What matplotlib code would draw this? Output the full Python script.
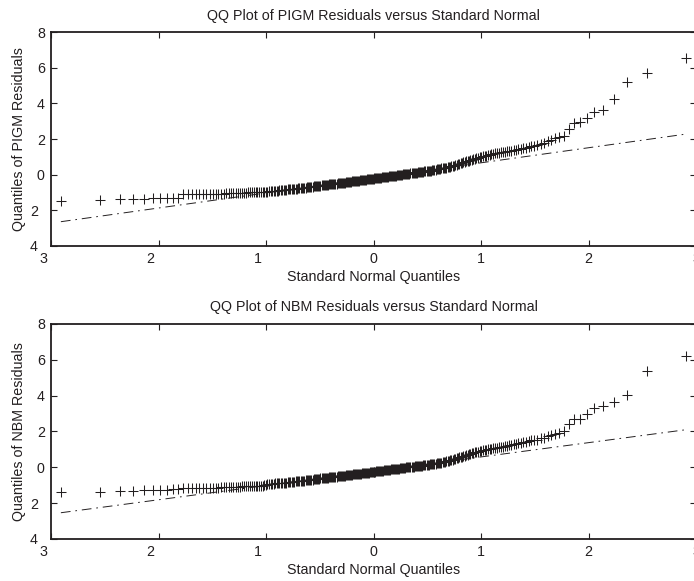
import numpy as np
import matplotlib
matplotlib.use("Agg")
import matplotlib.pyplot as plt
from matplotlib.transforms import ScaledTranslation
from statistics import NormalDist

# sorted residuals (275 points per panel)
pigm_resid = [
    -1.46, -1.44, -1.39, -1.37, -1.35, -1.33, -1.32, -1.31, -1.30, -1.29,
    -1.10, -1.10, -1.09, -1.09, -1.08, -1.08, -1.08, -1.07, -1.07, -1.07,
    -1.06, -1.06, -1.06, -1.05, -1.05, -1.04, -1.04, -1.03, -1.03,
    -1.02, -1.02, -1.01, -1.01, -1.00, -1.00, -0.99, -0.99, -0.98, -0.98,
    -0.97, -0.97, -0.97, -0.96, -0.96,
    -0.95, -0.94, -0.93, -0.93, -0.92, -0.91, -0.90, -0.89, -0.88, -0.87,
    -0.87, -0.86, -0.85, -0.84, -0.83, -0.83, -0.82, -0.81, -0.80,
    -0.79, -0.79, -0.78, -0.77, -0.76, -0.75, -0.75, -0.74, -0.73, -0.72,
    -0.71, -0.70, -0.70, -0.69, -0.68, -0.67, -0.66, -0.66, -0.65, -0.64,
    -0.63, -0.62,
    -0.61, -0.60, -0.60, -0.59, -0.58, -0.58, -0.57, -0.56, -0.55, -0.55,
    -0.54, -0.53, -0.52, -0.52, -0.51, -0.50, -0.49, -0.49, -0.48, -0.47,
    -0.46, -0.46, -0.45, -0.44, -0.43, -0.42,
    -0.41, -0.41, -0.40, -0.39, -0.38, -0.38, -0.37, -0.36, -0.35, -0.35,
    -0.34, -0.33, -0.32, -0.32, -0.31, -0.30, -0.29, -0.29, -0.28, -0.27,
    -0.26, -0.26, -0.25, -0.24, -0.23, -0.23, -0.22,
    -0.21, -0.21, -0.20, -0.19, -0.18, -0.18, -0.17, -0.16, -0.15, -0.15,
    -0.14, -0.13, -0.12, -0.12, -0.11, -0.10, -0.09, -0.09, -0.08, -0.07,
    -0.06, -0.06, -0.05, -0.04, -0.03, -0.03, -0.02,
    -0.01, 0.00, 0.01, 0.01, 0.02, 0.03, 0.04, 0.05, 0.06, 0.07,
    0.07, 0.08, 0.09, 0.10, 0.11, 0.12, 0.13, 0.13, 0.14, 0.15,
    0.16, 0.17, 0.18, 0.19, 0.19, 0.20,
    0.21, 0.22, 0.23, 0.25, 0.26, 0.27, 0.28, 0.30, 0.31, 0.32,
    0.33, 0.35, 0.36, 0.37, 0.38, 0.40, 0.41, 0.43, 0.44, 0.46,
    0.48, 0.50,
    0.53, 0.55, 0.58, 0.61, 0.63, 0.66, 0.69, 0.71, 0.74, 0.76,
    0.79, 0.82, 0.84, 0.87, 0.90, 0.92, 0.95, 0.97, 1.00,
    1.02, 1.05, 1.07, 1.09, 1.12, 1.14, 1.16, 1.19, 1.21, 1.23,
    1.25, 1.27, 1.29, 1.31, 1.33,
    1.35, 1.37, 1.40, 1.42, 1.45, 1.48, 1.51, 1.55,
    1.58, 1.62, 1.66, 1.72, 1.80, 1.87, 1.97, 2.06, 2.13, 2.19,
    2.58, 2.92, 2.94, 3.19, 3.54, 3.60, 4.25, 5.22, 5.69, 6.56,
]

nbm_resid = [
    -1.35, -1.35, -1.31, -1.30, -1.28, -1.26, -1.25, -1.24, -1.23, -1.22,
    -1.18, -1.17, -1.17, -1.16, -1.16, -1.15, -1.15, -1.14, -1.14, -1.13,
    -1.13, -1.12, -1.12, -1.11, -1.11, -1.10, -1.10, -1.09, -1.08,
    -1.08, -1.07, -1.07, -1.06, -1.06, -1.05, -1.05, -1.04, -1.04, -1.03,
    -1.03, -1.02, -1.02, -1.01, -1.00,
    -0.93, -0.92, -0.92, -0.91, -0.91, -0.90, -0.89, -0.89, -0.88, -0.87,
    -0.87, -0.86, -0.85, -0.85, -0.84, -0.83, -0.82, -0.82, -0.81,
    -0.80, -0.79, -0.78, -0.78, -0.77, -0.76, -0.75, -0.75, -0.74, -0.73,
    -0.72, -0.71, -0.71, -0.70, -0.69, -0.68, -0.67, -0.66, -0.66, -0.65,
    -0.64, -0.63,
    -0.62, -0.61, -0.60, -0.60, -0.59, -0.58, -0.58, -0.57, -0.56, -0.56,
    -0.55, -0.54, -0.54, -0.53, -0.52, -0.52, -0.51, -0.50, -0.49, -0.49,
    -0.48, -0.47, -0.47, -0.46, -0.45, -0.44,
    -0.43, -0.43, -0.42, -0.41, -0.41, -0.40, -0.39, -0.39, -0.38, -0.37,
    -0.37, -0.36, -0.35, -0.35, -0.34, -0.33, -0.32, -0.32, -0.31, -0.30,
    -0.30, -0.29, -0.28, -0.28, -0.27, -0.26, -0.25,
    -0.24, -0.24, -0.23, -0.22, -0.21, -0.21, -0.20, -0.19, -0.19, -0.18,
    -0.17, -0.17, -0.16, -0.15, -0.15, -0.14, -0.13, -0.12, -0.12, -0.11,
    -0.10, -0.10, -0.09, -0.08, -0.08, -0.07, -0.06,
    -0.05, -0.04, -0.04, -0.03, -0.02, -0.01, -0.01, 0.00, 0.01, 0.02,
    0.02, 0.03, 0.04, 0.05, 0.05, 0.06, 0.07, 0.08, 0.08, 0.09,
    0.10, 0.11, 0.11, 0.12, 0.13, 0.14,
    0.15, 0.16, 0.17, 0.18, 0.19, 0.20, 0.21, 0.22, 0.23, 0.24,
    0.25, 0.26, 0.28, 0.29, 0.31, 0.33, 0.35, 0.37, 0.39, 0.41,
    0.43, 0.45,
    0.48, 0.50, 0.53, 0.55, 0.58, 0.60, 0.63, 0.65, 0.68, 0.70,
    0.73, 0.75, 0.78, 0.80, 0.83, 0.85, 0.88, 0.90, 0.92,
    0.94, 0.96, 0.98, 1.00, 1.02, 1.04, 1.06, 1.08, 1.10, 1.12,
    1.14, 1.16, 1.18, 1.20, 1.22,
    1.25, 1.28, 1.31, 1.34, 1.37, 1.40, 1.44, 1.48,
    1.50, 1.52, 1.55, 1.62, 1.66, 1.72, 1.78, 1.85, 1.91, 2.04,
    2.41, 2.69, 2.71, 2.97, 3.31, 3.44, 3.62, 4.03, 5.35, 6.23,
]

x_ticks = [-3, -2, -1, 0, 1, 2, 3]
x_tick_labels = ["3", "2", "1", "0", "1", "2", "3"]
y_ticks = [-4, -2, 0, 2, 4, 6, 8]
y_tick_labels = ["4", "2", "0", "2", "4", "6", "8"]

titles = ["QQ Plot of PIGM Residuals versus Standard Normal",
          "QQ Plot of NBM Residuals versus Standard Normal"]
ylabels = ["Quantiles of PIGM Residuals", "Quantiles of NBM Residuals"]
xlabel = "Standard Normal Quantiles"

INK = "#231f20"

plt.rcParams["font.family"] = ["Liberation Sans", "DejaVu Sans"]
plt.rcParams["lines.scale_dashes"] = False


def qq_panel(fig, ax, resid, title, ylabel):
    y = np.sort(np.asarray(resid))
    n = len(y)
    nd = NormalDist()
    z = np.array([nd.inv_cdf((i - 0.5) / n) for i in range(1, n + 1)])

    # reference line through the first and third quartiles
    q1, q3 = np.percentile(y, [25, 75])
    z1, z3 = nd.inv_cdf(0.25), nd.inv_cdf(0.75)
    slope = (q3 - q1) / (z3 - z1)
    icpt = q1 - slope * z1

    ends = np.array([z[0], z[-1]])
    ax.plot(ends, icpt + slope * ends, color=INK, lw=0.7,
            linestyle=(0, (7, 3.5, 1.2, 3.5)), zorder=2)
    ax.plot([z1, z3], [q1, q3], color=INK, lw=0.7, zorder=2)
    ax.plot(z, y, "+", color=INK, markersize=6.8, markeredgewidth=0.75,
            zorder=3)

    ax.set_xlim(-3, 3)
    ax.set_ylim(-4, 8)
    ax.set_xticks(x_ticks)
    ax.set_xticklabels(x_tick_labels)
    ax.set_yticks(y_ticks)
    ax.set_yticklabels(y_tick_labels)
    ax.tick_params(direction="in", top=True, right=True, length=4,
                   width=0.8, labelsize=10.3, pad=4.5, colors=INK)
    for side in ax.spines.values():
        side.set_linewidth(1.3)
        side.set_color(INK)

    ax.set_title(title, fontsize=10.3, color=INK, pad=9)
    ax.set_xlabel(xlabel, fontsize=10.3, color=INK, labelpad=3)
    ax.set_ylabel(ylabel, fontsize=10.3, color=INK, labelpad=2.5)

    # negative labels sit left of their ticks in the original
    shift_x = ScaledTranslation(-0.08, 0, fig.dpi_scale_trans)
    shift_y = ScaledTranslation(-0.07, 0, fig.dpi_scale_trans)
    for tick, loc in zip(ax.xaxis.get_major_ticks(), x_ticks):
        if loc < 0:
            tick.label1.set_transform(tick.label1.get_transform() + shift_x)
    for tick, loc in zip(ax.yaxis.get_major_ticks(), y_ticks):
        if loc < 0:
            tick.label1.set_transform(tick.label1.get_transform() + shift_y)


fig = plt.figure(figsize=(6.94, 5.81), dpi=100)
ax_top = fig.add_axes([0.0735, 0.5766, 0.9294, 0.3683])
ax_bot = fig.add_axes([0.0735, 0.0723, 0.9294, 0.3701])

qq_panel(fig, ax_top, pigm_resid, titles[0], ylabels[0])
qq_panel(fig, ax_bot, nbm_resid, titles[1], ylabels[1])

fig.savefig("out.png", dpi=100)
